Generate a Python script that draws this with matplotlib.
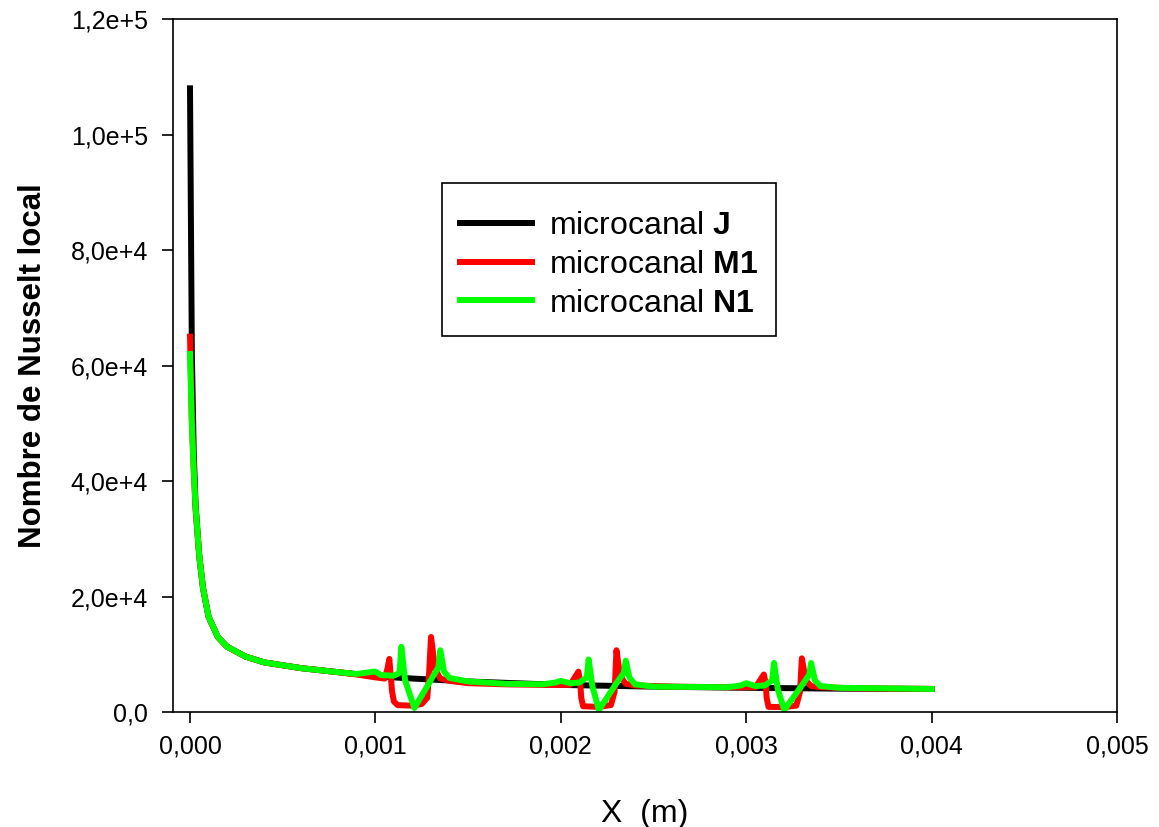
import matplotlib.pyplot as plt
import numpy as np
from matplotlib.ticker import FuncFormatter

plt.rcParams['font.family'] = ['Liberation Sans', 'DejaVu Sans']
plt.rcParams['mathtext.fontset'] = 'custom'
plt.rcParams['mathtext.bf'] = 'Liberation Sans:bold'
plt.rcParams['mathtext.rm'] = 'Liberation Sans'

# microcanal J
x_j = [0, 1e-5, 2e-5, 3e-5, 5e-5, 7e-5, 1e-4, 1.5e-4, 2e-4, 3e-4, 4e-4, 5e-4,
       6e-4, 8e-4, 1e-3, 1.2e-3, 1.5e-3, 2e-3, 2.5e-3, 3e-3, 3.5e-3, 4e-3]
nu_j = [108000, 62000, 45000, 36000, 27000, 21500, 16500, 13000, 11300, 9600, 8600, 8100,
        7600, 6900, 6200, 5800, 5300, 4700, 4400, 4200, 4050, 4000]

# microcanal M1
x_m1 = [0, 1e-5, 2e-5, 3e-5, 5e-5, 7e-5, 1e-4, 1.5e-4, 2e-4, 3e-4, 4e-4, 5e-4,
        6e-4, 8e-4, 9e-4, 1e-3, 1.05e-3, 1.065e-3, 1.075e-3, 1.09e-3, 1.1e-3, 1.12e-3, 1.2e-3,
        1.25e-3, 1.28e-3, 1.29e-3, 1.3e-3, 1.31e-3, 1.32e-3, 1.35e-3, 1.4e-3, 1.5e-3,
        1.7e-3, 1.9e-3, 2.05e-3, 2.095e-3, 2.105e-3, 2.11e-3, 2.12e-3, 2.2e-3, 2.27e-3, 2.29e-3,
        2.3e-3, 2.31e-3, 2.32e-3, 2.35e-3, 2.4e-3, 2.6e-3, 2.9e-3, 3.05e-3, 3.095e-3, 3.105e-3,
        3.11e-3, 3.12e-3, 3.2e-3, 3.27e-3, 3.29e-3, 3.3e-3, 3.31e-3, 3.32e-3, 3.35e-3,
        3.4e-3, 3.6e-3, 4e-3]
nu_m1 = [65000, 50000, 42000, 35000, 27000, 21500, 16500, 13000, 11300, 9600, 8600, 8100,
         7600, 6900, 6500, 6000, 5800, 7500, 9200, 3500, 1800, 1200, 1100,
         1400, 2500, 7000, 13000, 10500, 7500, 5800, 5400, 5000,
         4800, 4700, 4700, 7000, 5000, 2500, 1000, 900, 1200, 3500,
         10700, 8500, 6200, 4900, 4600, 4400, 4300, 4300, 6500, 5000,
         2500, 900, 850, 1100, 3500, 9300, 7500, 5500, 4500,
         4300, 4100, 4000]

# microcanal N1
x_n1 = [0, 1e-5, 2e-5, 3e-5, 5e-5, 7e-5, 1e-4, 1.5e-4, 2e-4, 3e-4, 4e-4, 5e-4,
        6e-4, 8e-4, 9e-4, 9.7e-4, 1e-3, 1.03e-3, 1.1e-3, 1.13e-3, 1.14e-3, 1.16e-3,
        1.21e-3, 1.28e-3, 1.34e-3, 1.35e-3, 1.37e-3, 1.4e-3, 1.5e-3, 1.7e-3, 1.9e-3,
        1.97e-3, 2e-3, 2.05e-3, 2.1e-3, 2.14e-3, 2.15e-3, 2.17e-3, 2.205e-3, 2.3e-3,
        2.34e-3, 2.35e-3, 2.37e-3, 2.4e-3, 2.5e-3, 2.9e-3, 2.97e-3, 3e-3, 3.05e-3,
        3.1e-3, 3.14e-3, 3.15e-3, 3.17e-3, 3.205e-3, 3.3e-3, 3.34e-3, 3.35e-3, 3.37e-3,
        3.4e-3, 3.5e-3, 4e-3]
nu_n1 = [62000, 50000, 42000, 35500, 27000, 21500, 16500, 13000, 11300, 9600, 8600, 8100,
         7600, 6900, 6600, 6900, 7000, 6400, 6300, 6800, 11300, 5500,
         700, 4500, 7800, 10700, 7000, 5900, 5300, 4900, 4800,
         5100, 5400, 5000, 5100, 6000, 9100, 4500, 350, 5000,
         6800, 8900, 6000, 4800, 4400, 4300, 4600, 5000, 4500,
         4600, 5500, 8500, 4000, 350, 4600, 6500, 8500, 5500,
         4500, 4200, 4000]

fig = plt.figure(figsize=(11.59, 8.27), dpi=100)
ax = fig.add_axes([0.1493, 0.139, 0.8145, 0.838])

ax.plot(x_j, nu_j, color='black', lw=4.3, label='microcanal $\\mathbf{J}$')
ax.plot(x_m1, nu_m1, color='#ff0000', lw=4.3, label='microcanal $\\mathbf{M1}$')
ax.plot(x_n1, nu_n1, color='#00ff00', lw=4.3, label='microcanal $\\mathbf{N1}$')

ax.set_xlim(-0.0000915, 0.005)
ax.set_ylim(0, 120000)
ax.set_xticks(np.arange(0, 0.0051, 0.001))
ax.set_yticks(np.arange(0, 120001, 20000))


def yfmt(v, pos):
    if v == 0:
        return '0,0'
    e = int(np.floor(np.log10(abs(v))))
    m = v / 10**e
    return f'{m:.1f}e+{e}'.replace('.', ',')


ax.yaxis.set_major_formatter(FuncFormatter(yfmt))
ax.xaxis.set_major_formatter(FuncFormatter(lambda v, p: f'{v:.3f}'.replace('.', ',')))
ax.tick_params(direction='out', length=8, width=1.2, labelsize=18)
ax.tick_params(axis='y', pad=10)
ax.tick_params(axis='x', pad=8)
for s in ax.spines.values():
    s.set_linewidth(1.2)

ax.set_xlabel('X  (m)', fontsize=23, labelpad=29)
ax.set_ylabel('Nombre de Nusselt local', fontsize=22.5, fontweight='bold', labelpad=16)

leg = ax.legend(loc='upper left', bbox_to_anchor=(0.285, 0.763), borderaxespad=0,
                fontsize=23, fancybox=False, edgecolor='black', framealpha=1,
                handlelength=2.25, borderpad=0.55, labelspacing=0.28, handletextpad=0.55,
                title=' ', title_fontsize=0.5)
leg.get_frame().set_linewidth(1.2)

fig.savefig('out.png', dpi=100)
